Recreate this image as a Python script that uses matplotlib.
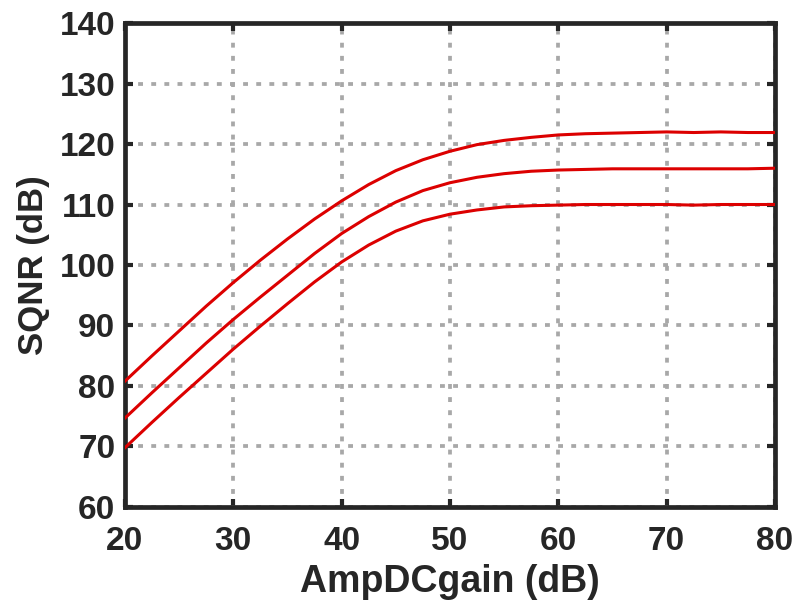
import numpy as np
import matplotlib.pyplot as plt

# AmpDCgain (dB) sweep
gain = [20, 22.5, 25, 27.5, 30, 32.5, 35, 37.5, 40, 42.5, 45, 47.5, 50,
        52.5, 55, 57.5, 60, 62.5, 65, 67.5, 70, 72.5, 75, 77.5, 80]

# SQNR (dB) for the three curves
sqnr_top = [80.8, 85.0, 89.1, 93.2, 97.1, 100.8, 104.3, 107.6, 110.6, 113.3,
            115.6, 117.4, 118.8, 119.9, 120.6, 121.1, 121.5, 121.7, 121.8,
            121.9, 122.0, 121.9, 122.0, 121.9, 121.9]
sqnr_mid = [74.7, 78.9, 83.0, 87.1, 91.0, 94.7, 98.3, 101.9, 105.2, 108.0,
            110.4, 112.3, 113.6, 114.5, 115.1, 115.5, 115.7, 115.8, 115.9,
            115.9, 115.9, 115.9, 115.9, 115.9, 116.0]
sqnr_bot = [69.8, 74.0, 78.1, 82.1, 86.1, 89.9, 93.6, 97.2, 100.5, 103.3,
            105.6, 107.3, 108.4, 109.1, 109.6, 109.8, 109.9, 110.0, 110.0,
            110.0, 110.0, 109.9, 110.0, 110.0, 110.0]

xticks = [20, 30, 40, 50, 60, 70, 80]
yticks = [60, 70, 80, 90, 100, 110, 120, 130, 140]

plt.rcParams['font.family'] = ['Liberation Sans', 'DejaVu Sans']
plt.rcParams['font.weight'] = 'bold'

fig = plt.figure(figsize=(7.94, 6.14), dpi=100)
ax = fig.add_axes([0.1574, 0.1743, 0.8186, 0.7882])

for s in [sqnr_top, sqnr_mid, sqnr_bot]:
    ax.plot(gain, s, color='#dc0000', lw=2.2, zorder=3)

ax.set_xlim(20, 80)
ax.set_ylim(60, 140)
ax.set_xticks(xticks)
ax.set_yticks(yticks)
ax.grid(True, color='#a8a8a8', lw=2.7, linestyle=(0, (1.3, 2.2)))
ax.set_axisbelow(True)

for sp in ax.spines.values():
    sp.set_linewidth(3.4)
    sp.set_color('#262626')
ax.tick_params(direction='in', length=6, width=3, color='#262626',
               top=True, right=True, labelsize=24)
ax.tick_params(axis='x', pad=14)
ax.tick_params(axis='y', pad=7)

ax.set_xlabel('AmpDCgain (dB)', fontsize=27, fontweight='bold', color='#262626', labelpad=5)
ax.set_ylabel('SQNR (dB)', fontsize=25, fontweight='bold', color='#262626', labelpad=7)
for lab in ax.get_xticklabels() + ax.get_yticklabels():
    lab.set_color('#262626')

fig.savefig('out.png', dpi=100)
